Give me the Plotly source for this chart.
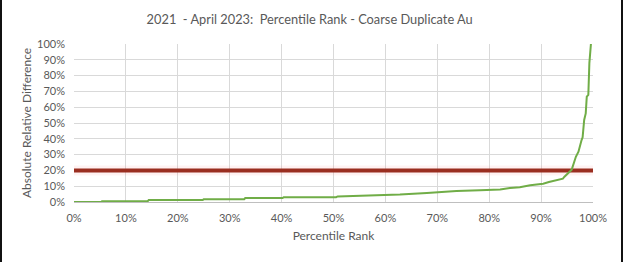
import plotly.graph_objects as go

# Percentile rank (%) and absolute relative difference (%)
pct_rank = [0, 5.2, 5.4, 14.2, 14.4, 24.8, 25.0, 32.8, 33.0, 40.2, 40.4, 50.5, 50.8,
            57.0, 62.8, 68.0, 70.5, 73.7, 78.2, 82.1, 84.0, 85.9, 87.9, 89.1, 90.4,
            91.5, 94.2, 94.5, 95.3, 95.9, 96.7, 97.2, 97.8, 98.0, 98.3, 98.6, 98.8,
            99.1, 99.3, 99.6, 99.7]
abs_rel_diff = [0, 0, 0.5, 0.5, 1.2, 1.2, 1.8, 1.8, 2.5, 2.5, 3.0, 3.0, 3.5,
                4.0, 4.7, 5.7, 6.3, 7.0, 7.5, 7.9, 8.9, 9.4, 10.6, 11.2, 11.6,
                12.7, 14.8, 16.0, 18.4, 20.5, 28.6, 31.8, 39.2, 40.9, 51.9, 56.1, 66.7,
                67.8, 87.9, 99.6, 104]
threshold_x = [0, 100]
threshold_y = [20, 20]

x_ticks = list(range(0, 101, 10))
y_ticks = list(range(0, 101, 10))

font_family = "Lato, 'Open Sans', sans-serif"
grey = "#595959"

fig = go.Figure()
# soft glow under threshold line
fig.add_trace(go.Scatter(x=threshold_x, y=threshold_y, mode="lines",
                         line=dict(color="rgba(255,150,150,0.12)", width=10),
                         hoverinfo="skip", showlegend=False))
fig.add_trace(go.Scatter(x=threshold_x, y=threshold_y, mode="lines",
                         line=dict(color="#9A2E20", width=4),
                         showlegend=False))
fig.add_trace(go.Scatter(x=pct_rank, y=abs_rel_diff, mode="lines",
                         line=dict(color="#70AD47", width=2),
                         showlegend=False, cliponaxis=True))

fig.update_layout(
    width=623, height=262,
    margin=dict(l=74, r=30, t=44, b=60),
    paper_bgcolor="white", plot_bgcolor="white",
    font=dict(family=font_family, color=grey, size=11),
    title=dict(text="2021  - April 2023:  Percentile Rank - Coarse Duplicate Au",
               x=0.497, xanchor="center", y=0.925, yanchor="middle",
               font=dict(family=font_family, size=12.8, color=grey)),
    xaxis=dict(range=[0, 100], tickvals=x_ticks, ticktext=[f"{v}%" for v in x_ticks],
               showgrid=True, gridcolor="#d9d9d9", gridwidth=1,
               showline=True, linecolor="#bfbfbf", linewidth=1,
               zeroline=False, ticks="", ticklabelstandoff=6,
               tickfont=dict(size=11, color=grey),
               title=dict(text="Percentile Rank", standoff=8,
                          font=dict(size=12, color=grey))),
    yaxis=dict(range=[0, 100], tickvals=y_ticks, ticktext=[f"{v}%" for v in y_ticks],
               showgrid=True, gridcolor="#d9d9d9", gridwidth=1,
               zeroline=False, ticks="", ticklabelstandoff=8,
               tickfont=dict(size=11, color=grey),
               title=dict(text="Absolute Relative Difference", standoff=2,
                          font=dict(size=12, color=grey))),
)
# outer frame lines (left & right edges of image)
fig.add_shape(type="line", xref="paper", yref="paper",
              x0=-73/519, x1=-73/519, y0=-60/158, y1=1 + 44/158,
              line=dict(color="#111", width=2))
fig.add_shape(type="line", xref="paper", yref="paper",
              x0=1 + 29/519, x1=1 + 29/519, y0=-60/158, y1=1 + 44/158,
              line=dict(color="#111", width=2))

fig.write_html("out.html")
